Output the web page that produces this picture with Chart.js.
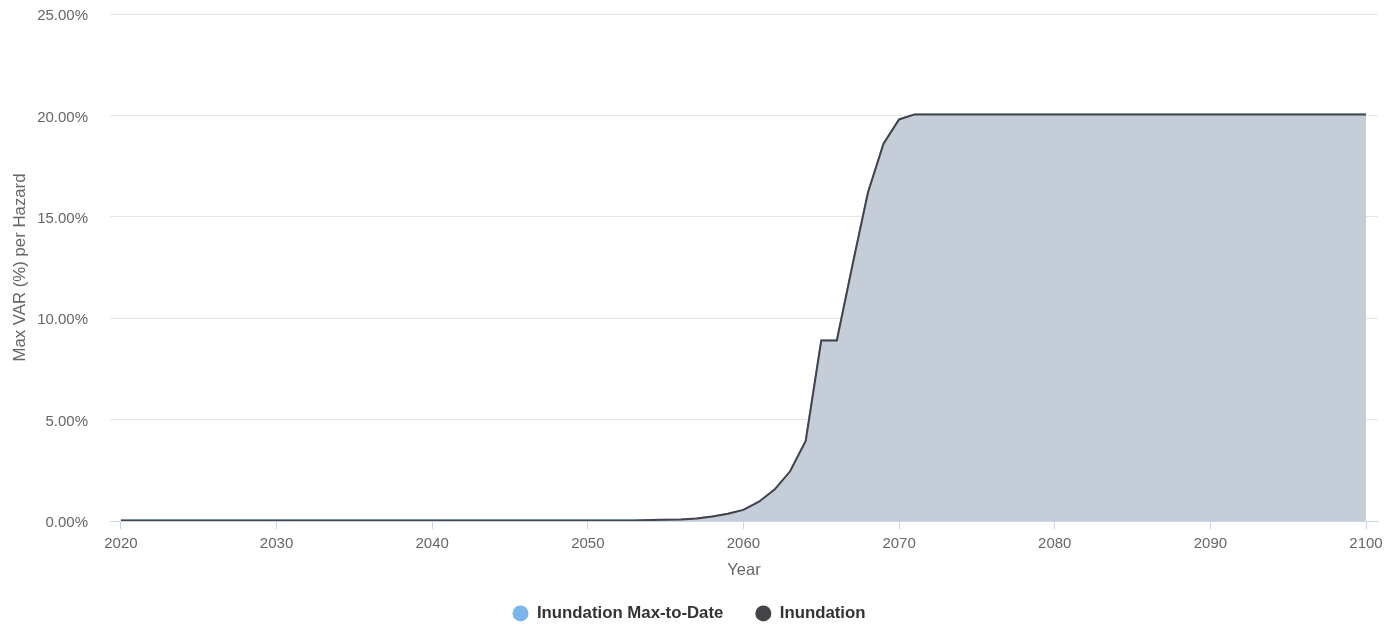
<!DOCTYPE html>
<html>
<head>
<meta charset="utf-8">
<script src="https://cdn.jsdelivr.net/npm/chart.js@4/dist/chart.umd.min.js"></script>
<style>
html,body{margin:0;padding:0;background:#fff;}
#wrap{width:1395px;height:626px;}
</style>
</head>
<body>
<div id="wrap"><canvas id="c" width="1395" height="626"></canvas></div>
<script>
const years = [2020,2021,2022,2023,2024,2025,2026,2027,2028,2029,
2030,2031,2032,2033,2034,2035,2036,2037,2038,2039,
2040,2041,2042,2043,2044,2045,2046,2047,2048,2049,
2050,2051,2052,2053,2054,2055,2056,2057,2058,2059,
2060,2061,2062,2063,2064,2065,2066,2067,2068,2069,
2070,2071,2072,2073,2074,2075,2076,2077,2078,2079,
2080,2081,2082,2083,2084,2085,2086,2087,2088,2089,
2090,2091,2092,2093,2094,2095,2096,2097,2098,2099,2100];

const inundation = [0.02,0.02,0.02,0.02,0.02,0.02,0.02,0.02,0.02,0.02,
0.02,0.02,0.02,0.02,0.02,0.02,0.02,0.02,0.02,0.02,
0.02,0.02,0.02,0.02,0.02,0.02,0.02,0.02,0.02,0.02,
0.02,0.02,0.02,0.03,0.05,0.06,0.08,0.12,0.22,0.36,
0.55,0.95,1.55,2.45,3.95,8.9,8.9,12.6,16.2,18.6,
19.8,20.05,20.05,20.05,20.05,20.05,20.05,20.05,20.05,20.05,
20.05,20.05,20.05,20.05,20.05,20.05,20.05,20.05,20.05,20.05,
20.05,20.05,20.05,20.05,20.05,20.05,20.05,20.05,20.05,20.05,20.05];

const inundationMaxToDate = [0.02,0.02,0.02,0.02,0.02,0.02,0.02,0.02,0.02,0.02,
0.02,0.02,0.02,0.02,0.02,0.02,0.02,0.02,0.02,0.02,
0.02,0.02,0.02,0.02,0.02,0.02,0.02,0.02,0.02,0.02,
0.02,0.02,0.02,0.03,0.05,0.06,0.08,0.12,0.22,0.36,
0.55,0.95,1.55,2.45,3.95,8.9,8.9,12.6,16.2,18.6,
19.8,20.05,20.05,20.05,20.05,20.05,20.05,20.05,20.05,20.05,
20.05,20.05,20.05,20.05,20.05,20.05,20.05,20.05,20.05,20.05,
20.05,20.05,20.05,20.05,20.05,20.05,20.05,20.05,20.05,20.05,20.05];

const xTickValues = [2020,2030,2040,2050,2060,2070,2080,2090,2100];
const yTickValues = [0,5,10,15,20,25];
const seriesNames = ['Inundation Max-to-Date','Inundation'];

const FONT = '"Liberation Sans", Arial, Helvetica, sans-serif';

const toPts = arr => years.map((yr, i) => ({x: yr, y: arr[i]}));

new Chart(document.getElementById('c'), {
  type: 'line',
  data: {
    datasets: [
      {
        label: seriesNames[0],
        data: toPts(inundationMaxToDate),
        borderColor: '#7cb5ec',
        backgroundColor: '#7cb5ec',
        borderWidth: 2,
        fill: false,
        pointRadius: 0,
        pointHoverRadius: 0,
        tension: 0,
        pointStyle: 'circle',
        order: 1
      },
      {
        label: seriesNames[1],
        data: toPts(inundation),
        borderColor: '#434348',
        backgroundColor: '#c5cdd9',
        borderWidth: 2,
        fill: 'origin',
        pointRadius: 0,
        pointHoverRadius: 0,
        tension: 0,
        pointStyle: 'circle',
        order: 0
      }
    ]
  },
  options: {
    responsive: false,
    animation: false,
    layout: { padding: { left: 0, right: 17, top: 14, bottom: 0 } },
    plugins: {
      tooltip: { enabled: false },
      legend: {
        position: 'bottom',
        maxHeight: 53,
        labels: {
          usePointStyle: true,
          pointStyleWidth: 16,
          boxHeight: 11.3,
          padding: 32,
          color: '#333333',
          font: { family: FONT, size: 16.8, weight: 'bold' },
          sort: (a, b) => a.datasetIndex - b.datasetIndex,
          generateLabels: (chart) => {
            const items = Chart.defaults.plugins.legend.labels.generateLabels(chart);
            items.forEach(it => {
              const ds = chart.data.datasets[it.datasetIndex];
              it.fillStyle = ds.borderColor;
              it.strokeStyle = ds.borderColor;
              it.lineWidth = 0;
            });
            return items;
          }
        }
      }
    },
    scales: {
      x: {
        type: 'linear',
        min: 2019.3,
        max: 2100.77,
        afterBuildTicks: (s) => { s.ticks = xTickValues.map(v => ({value: v})); },
        afterFit: (s) => { s.height = 52; },
        border: { display: true, color: '#ccd6eb', width: 1 },
        grid: { drawOnChartArea: false, drawTicks: true, tickLength: 8, color: '#ccd6eb' },
        ticks: {
          color: '#666666',
          padding: 6,
          font: { family: FONT, size: 15 },
          callback: (v) => String(v),
          maxRotation: 0,
          autoSkip: false
        },
        title: {
          display: true,
          text: 'Year',
          color: '#666666',
          font: { family: FONT, size: 16.5 },
          padding: { top: 0, bottom: -7 }
        }
      },
      y: {
        min: 0,
        max: 25,
        afterBuildTicks: (s) => { s.ticks = yTickValues.map(v => ({value: v})); },
        afterFit: (s) => { s.width = 110; s.paddingTop = 9; s.paddingBottom = 9; },
        border: { display: false },
        grid: { color: '#e6e6e6', drawTicks: false, lineWidth: 1 },
        ticks: {
          color: '#666666',
          padding: 22,
          labelOffset: 2,
          font: { family: FONT, size: 15 },
          callback: (v) => Number(v).toFixed(2) + '%'
        },
        title: {
          display: true,
          text: 'Max VAR (%) per Hazard',
          color: '#666666',
          font: { family: FONT, size: 16.8 },
          padding: { top: 10, bottom: 0 }
        }
      }
    }
  }
});
</script>
</body>
</html>
